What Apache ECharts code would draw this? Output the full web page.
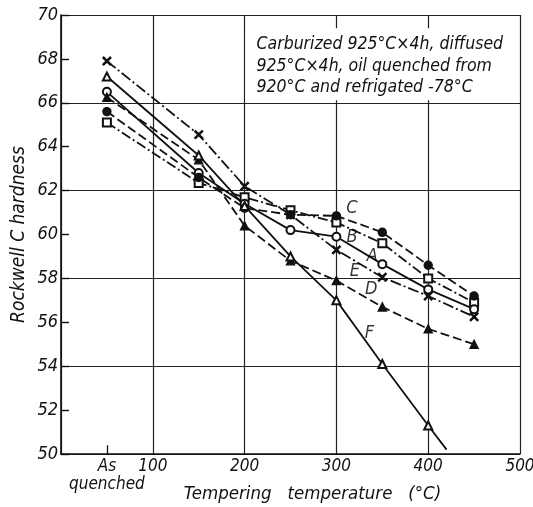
<!DOCTYPE html>
<html><head><meta charset="utf-8">
<script src="https://cdn.jsdelivr.net/npm/echarts@6/dist/echarts.min.js"></script>
<style>html,body{margin:0;padding:0;background:#fff}#c{width:533px;height:507px}</style>
</head><body><div id="c"></div>
<script>
// Tempering temperatures (°C); 50 = "As quenched" position
const temps = [50, 150, 200, 250, 300, 350, 400, 450];
const xTickLabels = ['As\nquenched', '100', '200', '300', '400', '500'];
const yTickLabels = ['50','52','54','56','58','60','62','64','66','68','70'];
// Rockwell C hardness values per curve
const curveA = [65.1, 62.35, 61.7, 61.1, 60.55, 59.6, 58.0, 56.9];   // open square
const curveB = [66.5, 62.8, 61.4, 60.2, 59.9, 58.65, 57.5, 56.6];    // open circle
const curveC = [65.6, 62.6, 61.2, 60.9, 60.85, 60.1, 58.6, 57.2];    // filled circle
const curveD = [66.25, 63.4, 60.4, 58.8, 57.9, 56.7, 55.7, 55.0];    // filled triangle
const curveE = [67.9, 64.55, 62.2, 60.9, 59.3, 58.05, 57.2, 56.25];  // cross
const curveF = [67.2, 63.6, 61.3, 59.0, 57.0, 54.1, 51.3];           // open triangle
const curveFEnd = [420, 50.2]; // line continues beyond last marker
// curve labels: name, temperature, hardness
const curveLabelNames = ['C', 'B', 'A', 'E', 'D', 'F'];
const curveLabelT = [317, 317, 339, 320, 338, 336];
const curveLabelH = [61.2, 59.85, 59.0, 58.3, 57.5, 55.5];
const noteText = 'Carburized 925°C×4h, diffused\n925°C×4h, oil quenched from\n920°C and refrigated -78°C';

const FONT = "'Liberation Sans Narrow','DejaVu Sans Condensed','Liberation Sans',sans-serif";
const INK = '#111';
const crossPath = 'path://M0,1L1,0L5,4L9,0L10,1L6,5L10,9L9,10L5,6L1,10L0,9L4,5Z';

function mk(name, vals, symbol, dash, extra) {
  const data = vals.map((v, i) => [temps[i], v]);
  if (extra) data.push({value: extra, symbol: 'none'});
  return {
    name, type: 'line', data, symbol, symbolSize: 8,
    xAxisIndex: 0, yAxisIndex: 0, z: 5,
    lineStyle: {color: INK, width: 1.8, type: dash},
    itemStyle: {color: INK, borderColor: INK, borderWidth: 1.4},
    emphasis: {disabled: true}
  };
}

const chart = echarts.init(document.getElementById('c'), null, {renderer: 'canvas'});
const option = {
  backgroundColor: '#fff',
  animation: false,
  grid: {left: 61, right: 13, top: 15, bottom: 53, containLabel: false, outerBoundsMode: 'none'},
  xAxis: [
    {type: 'value', min: 0, max: 500, interval: 100,
     axisLine: {show: true, lineStyle: {color: INK, width: 1.6}},
     axisTick: {show: false}, axisLabel: {show: false},
     splitLine: {show: true, lineStyle: {color: '#222', width: 1.2}},
     name: 'Tempering   temperature   (°C)', nameLocation: 'middle', nameGap: 31,
     nameTextStyle: {fontFamily: FONT, fontStyle: 'italic', fontSize: 18.5, color: INK, padding: [0, 0, 0, 44]}},
    {type: 'value', min: 0, max: 500, interval: 50, position: 'bottom',
     axisLine: {show: false}, axisTick: {show: false}, splitLine: {show: false},
     axisLabel: {margin: 4, fontFamily: FONT, fontStyle: 'italic', fontSize: 17, color: INK, lineHeight: 18,
       formatter: v => v === 50 ? xTickLabels[0] : (v % 100 === 0 && v > 0 ? xTickLabels[v / 100] : '')}}
  ],
  yAxis: [
    {type: 'value', min: 50, max: 70, interval: 4,
     axisLine: {show: true, lineStyle: {color: INK, width: 1.6}},
     axisTick: {show: false}, axisLabel: {show: false},
     splitLine: {show: true, lineStyle: {color: '#222', width: 1.2}},
     name: 'Rockwell C hardness', nameLocation: 'middle', nameGap: 32,
     nameTextStyle: {fontFamily: FONT, fontStyle: 'italic', fontSize: 19, color: INK}},
    {type: 'value', min: 50, max: 70, interval: 2, position: 'left',
     axisLine: {show: false}, splitLine: {show: false},
     axisTick: {show: true, inside: true, length: 8, lineStyle: {color: INK, width: 1.4}},
     axisLabel: {margin: 3, fontFamily: FONT, fontStyle: 'italic', fontSize: 18, color: INK,
       formatter: v => yTickLabels[(v - 50) / 2]}}
  ],
  series: [
    {type: 'line', data: [], xAxisIndex: 0, yAxisIndex: 0, z: 3,
     markArea: {silent: true,
       itemStyle: {color: '#fff', borderWidth: 0},
       label: {show: true, position: 'insideTopLeft', distance: 0, offset: [11, 6],
         fontFamily: FONT, fontStyle: 'italic', fontSize: 17.5, lineHeight: 21.5, color: INK,
         formatter: noteText},
       data: [[{coord: [201, 66.12]}, {coord: [499, 69.4]}]]},
     markLine: {silent: true, symbol: 'none', label: {show: false},
       lineStyle: {color: INK, width: 1.3, type: 'solid'},
       data: [[{coord: [temps[0], 50]}, {coord: [temps[0], 50.4]}]]}},
    mk('A', curveA, 'emptyRect', [10, 3, 2, 3]),
    mk('B', curveB, 'emptyCircle', 'solid'),
    mk('C', curveC, 'circle', [9, 4]),
    mk('D', curveD, 'triangle', [9, 4]),
    mk('E', curveE, crossPath, [11, 3, 2, 3]),
    mk('F', curveF, 'emptyTriangle', 'solid', curveFEnd),
    {type: 'scatter', symbolSize: 0, z: 6,
     data: curveLabelNames.map((n, i) => [curveLabelT[i], curveLabelH[i], n]),
     label: {show: true, position: 'inside', formatter: p => p.value[2],
       fontFamily: FONT, fontStyle: 'italic', fontSize: 18, color: '#000', textBorderWidth: 0}}
  ]
};
chart.setOption(option);
</script></body></html>
